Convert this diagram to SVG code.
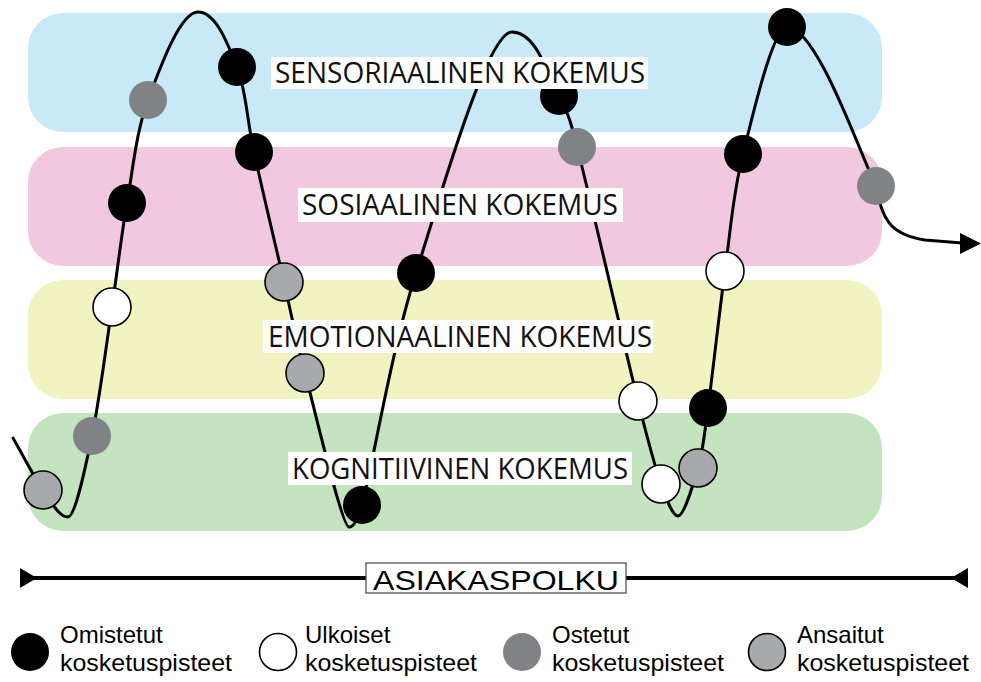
<svg xmlns="http://www.w3.org/2000/svg" width="981" height="682" viewBox="0 0 981 682">
  <style>
    .band { stroke: none; }
    .lblbox { fill: #ffffff; stroke: none; }
    .lbl { font-family: "Open Sans", "Noto Sans", "DejaVu Sans", sans-serif; font-size: 28.5px; fill: #111111; }
    .own { fill: #000000; }
    .ext { fill: #ffffff; stroke: #000000; stroke-width: 1.6; }
    .paid { fill: #808285; }
    .earned { fill: #a7a9ac; stroke: #000000; stroke-width: 1.6; }
    .path { fill: none; stroke: #000000; stroke-width: 3; stroke-linecap: round; stroke-linejoin: round; }
    .leg { font-family: "Liberation Sans", Arial, sans-serif; font-size: 24px; fill: #000000; }
    .axis-text { font-family: "Liberation Sans", Arial, sans-serif; font-size: 28px; fill: #000000; }
  </style>
  <defs>
    <circle id="dot" r="19"/>
  </defs>

  <!-- experience bands -->
  <g id="band-sensory"><rect class="band" x="28" y="13" width="854" height="119" rx="35" fill="#c8e9f8"/></g>
  <g id="band-social"><rect class="band" x="28" y="147" width="854" height="119" rx="35" fill="#f2c8e0"/></g>
  <g id="band-emotional"><rect class="band" x="28" y="280" width="854" height="119" rx="35" fill="#f1f3c1"/></g>
  <g id="band-cognitive"><rect class="band" x="28" y="413" width="854" height="118" rx="35" fill="#c4e3bf"/></g>

  <!-- journey curve -->
  <g id="connectors">
    <path class="path" d="M13,438 C23,455.3 33.8,476.8 43,490 C52.2,503.2 59,517 68,517 C75,517 84.7,471 92,436 C99.3,401 106.2,345.8 112,307 C117.8,268.2 121,237.5 127,203 C133,168.5 136.2,131.8 148,100 C159.8,68.2 180,12 198,12 C216,12 227.7,43.7 237,67 C246.3,90.3 246.2,116.2 254,152 C261.8,187.8 275.5,245.2 284,282 C292.5,318.8 294.2,332.2 305,373 C315.8,413.8 342,527 349,527 C355,527 359,516 362,505 C373.2,462.7 391,351.8 416,273 C441,194.2 487,32 512,32 C537,32 548.2,76.8 559,96 C569.8,115.2 572.5,129.5 577,147 C590.2,197.8 624,345 638,401 C645,429 654.3,464.8 661,484 C665,495 672,516 678,516 C684,516 693,485 698,468 C703,451 705.3,428 708,408 C712.5,375 719.2,313.3 725,271 C730.8,228.7 732.7,194.7 743,154 C753.3,113.3 773,27 787,27 C817,27 860,154 876,186 C882,212 884,234 925,240 L962,243"/>
    <polygon points="960,233 981,243.5 960,254" fill="#000000"/>
  </g>

  <!-- touchpoints -->
  <g id="tp-earned-1"><use href="#dot" class="earned" x="43" y="490"/></g>
  <g id="tp-paid-1"><use href="#dot" class="paid" x="92" y="436"/></g>
  <g id="tp-external-1"><use href="#dot" class="ext" x="112" y="307"/></g>
  <g id="tp-owned-1"><use href="#dot" class="own" x="127" y="203"/></g>
  <g id="tp-paid-2"><use href="#dot" class="paid" x="148" y="100"/></g>
  <g id="tp-owned-2"><use href="#dot" class="own" x="237" y="67"/></g>
  <g id="tp-owned-3"><use href="#dot" class="own" x="254" y="152"/></g>
  <g id="tp-earned-2"><use href="#dot" class="earned" x="284" y="282"/></g>
  <g id="tp-earned-3"><use href="#dot" class="earned" x="305" y="373"/></g>
  <g id="tp-owned-4"><use href="#dot" class="own" x="362" y="505"/></g>
  <g id="tp-owned-5"><use href="#dot" class="own" x="416" y="273"/></g>
  <g id="tp-owned-6"><use href="#dot" class="own" x="559" y="96"/></g>
  <g id="tp-paid-3"><use href="#dot" class="paid" x="577" y="147"/></g>
  <g id="tp-external-2"><use href="#dot" class="ext" x="638" y="401"/></g>
  <g id="tp-external-3"><use href="#dot" class="ext" x="661" y="484"/></g>
  <g id="tp-earned-4"><use href="#dot" class="earned" x="698" y="468"/></g>
  <g id="tp-owned-7"><use href="#dot" class="own" x="708" y="408"/></g>
  <g id="tp-external-4"><use href="#dot" class="ext" x="725" y="271"/></g>
  <g id="tp-owned-8"><use href="#dot" class="own" x="743" y="154"/></g>
  <g id="tp-owned-9"><use href="#dot" class="own" x="787" y="27"/></g>
  <g id="tp-paid-4"><use href="#dot" class="paid" x="876" y="186"/></g>

  <!-- band labels -->
  <g id="label-sensory">
    <rect class="lblbox" x="271" y="57" width="377" height="32"/>
    <text class="lbl" x="275" y="83" textLength="370" lengthAdjust="spacingAndGlyphs">SENSORIAALINEN KOKEMUS</text>
  </g>
  <g id="label-social">
    <rect class="lblbox" x="298" y="188" width="325" height="34"/>
    <text class="lbl" x="302" y="215" textLength="316" lengthAdjust="spacingAndGlyphs">SOSIAALINEN KOKEMUS</text>
  </g>
  <g id="label-emotional">
    <rect class="lblbox" x="263" y="320" width="390" height="33"/>
    <text class="lbl" x="268" y="347" textLength="384" lengthAdjust="spacingAndGlyphs">EMOTIONAALINEN KOKEMUS</text>
  </g>
  <g id="label-cognitive">
    <rect class="lblbox" x="288" y="452" width="344" height="33"/>
    <text class="lbl" x="292" y="479" textLength="336" lengthAdjust="spacingAndGlyphs">KOGNITIIVINEN KOKEMUS</text>
  </g>

  <!-- customer journey axis -->
  <g id="axis">
    <line x1="22" y1="578" x2="966" y2="578" stroke="#000000" stroke-width="4"/>
    <polygon points="20,568 37,578 20,588" fill="#000000"/>
    <polygon points="968,568 951,578 968,588" fill="#000000"/>
    <rect x="366" y="563" width="260" height="30" fill="#ffffff" stroke="#444444" stroke-width="1.2"/>
    <text class="axis-text" x="373" y="590" textLength="246" lengthAdjust="spacingAndGlyphs">ASIAKASPOLKU</text>
  </g>

  <!-- legend -->
  <g id="legend-owned">
    <use href="#dot" class="own" x="30" y="652"/>
    <text class="leg" x="60" y="643">Omistetut</text>
    <text class="leg" x="60" y="671" textLength="172" lengthAdjust="spacingAndGlyphs">kosketuspisteet</text>
  </g>
  <g id="legend-external">
    <circle class="ext" cx="278" cy="652" r="18.5"/>
    <text class="leg" x="305" y="643">Ulkoiset</text>
    <text class="leg" x="305" y="671" textLength="172" lengthAdjust="spacingAndGlyphs">kosketuspisteet</text>
  </g>
  <g id="legend-paid">
    <use href="#dot" class="paid" x="522" y="652"/>
    <text class="leg" x="552" y="643">Ostetut</text>
    <text class="leg" x="552" y="671" textLength="172" lengthAdjust="spacingAndGlyphs">kosketuspisteet</text>
  </g>
  <g id="legend-earned">
    <circle class="earned" cx="767" cy="652" r="18.5"/>
    <text class="leg" x="797" y="643">Ansaitut</text>
    <text class="leg" x="797" y="671" textLength="172" lengthAdjust="spacingAndGlyphs">kosketuspisteet</text>
  </g>
</svg>
